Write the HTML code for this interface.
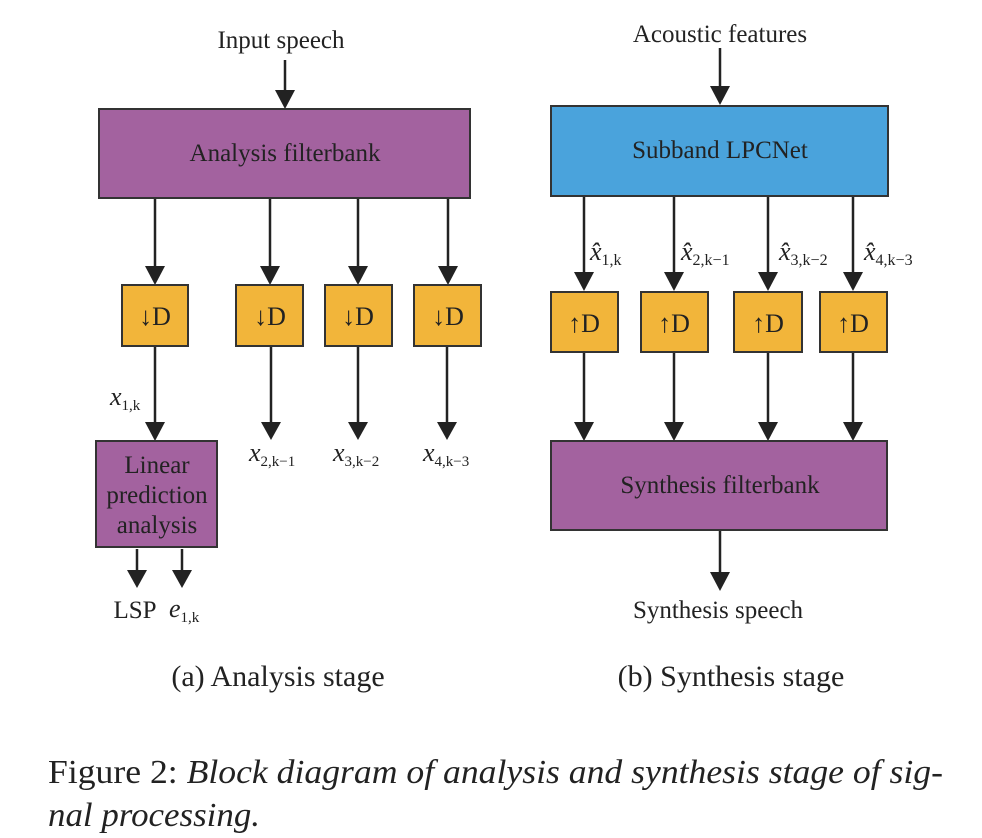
<!DOCTYPE html>
<html><head><style>
body{margin:0;background:#fff}
svg{display:block}
text{font-family:"Liberation Serif",serif;fill:#222}
</style></head><body>
<svg width="982" height="838" xmlns="http://www.w3.org/2000/svg">
<g stroke="#222" stroke-width="2.5">
<line x1="285" y1="60" x2="285" y2="92"/>
<line x1="155" y1="198" x2="155" y2="268"/>
<line x1="270" y1="198" x2="270" y2="268"/>
<line x1="358" y1="198" x2="358" y2="268"/>
<line x1="448" y1="198" x2="448" y2="268"/>
<line x1="155" y1="346" x2="155" y2="424"/>
<line x1="271" y1="346" x2="271" y2="424"/>
<line x1="358" y1="346" x2="358" y2="424"/>
<line x1="447" y1="346" x2="447" y2="424"/>
<line x1="137" y1="549" x2="137" y2="572"/>
<line x1="182" y1="549" x2="182" y2="572"/>
<line x1="720" y1="48" x2="720" y2="88"/>
<line x1="584" y1="196" x2="584" y2="274"/>
<line x1="674" y1="196" x2="674" y2="274"/>
<line x1="768" y1="196" x2="768" y2="274"/>
<line x1="853" y1="196" x2="853" y2="274"/>
<line x1="584" y1="352" x2="584" y2="424"/>
<line x1="674" y1="352" x2="674" y2="424"/>
<line x1="768" y1="352" x2="768" y2="424"/>
<line x1="853" y1="352" x2="853" y2="424"/>
<line x1="720" y1="530" x2="720" y2="574"/>
</g>
<g fill="#222">
<path d="M275,90 L295,90 L285,109 Z"/>
<path d="M145,266 L165,266 L155,285 Z"/>
<path d="M260,266 L280,266 L270,285 Z"/>
<path d="M348,266 L368,266 L358,285 Z"/>
<path d="M438,266 L458,266 L448,285 Z"/>
<path d="M145,422 L165,422 L155,441 Z"/>
<path d="M261,422 L281,422 L271,440 Z"/>
<path d="M348,422 L368,422 L358,440 Z"/>
<path d="M437,422 L457,422 L447,440 Z"/>
<path d="M127,570 L147,570 L137,588 Z"/>
<path d="M172,570 L192,570 L182,588 Z"/>
<path d="M710,86 L730,86 L720,105 Z"/>
<path d="M574,272 L594,272 L584,291 Z"/>
<path d="M664,272 L684,272 L674,291 Z"/>
<path d="M758,272 L778,272 L768,291 Z"/>
<path d="M843,272 L863,272 L853,291 Z"/>
<path d="M574,422 L594,422 L584,441 Z"/>
<path d="M664,422 L684,422 L674,441 Z"/>
<path d="M758,422 L778,422 L768,441 Z"/>
<path d="M843,422 L863,422 L853,441 Z"/>
<path d="M710,572 L730,572 L720,591 Z"/>
</g>
<g stroke="#333" stroke-width="2">
<rect x="99" y="109" width="371" height="89" fill="#a3629f"/>
<rect x="551" y="106" width="337" height="90" fill="#4aa3dc"/>
<rect x="551" y="441" width="336" height="89" fill="#a3629f"/>
<rect x="96" y="441" width="121" height="106" fill="#a3629f"/>
<g fill="#f2b53a">
<rect x="122" y="285" width="66" height="61"/>
<rect x="236" y="285" width="67" height="61"/>
<rect x="325" y="285" width="67" height="61"/>
<rect x="414" y="285" width="67" height="61"/>
<rect x="551" y="292" width="67" height="60"/>
<rect x="641" y="292" width="67" height="60"/>
<rect x="734" y="292" width="68" height="60"/>
<rect x="820" y="292" width="67" height="60"/>
</g>
</g>
<g font-size="25" text-anchor="middle">
<text x="281" y="48">Input speech</text>
<text x="720" y="42">Acoustic features</text>
<text x="285" y="161" fill="#3a1a3a">Analysis filterbank</text>
<text x="720" y="158" fill="#1e4a6a">Subband LPCNet</text>
<text x="720" y="493" fill="#3a1a3a">Synthesis filterbank</text>
<text x="157" y="473" fill="#3a1a3a">Linear</text>
<text x="157" y="503" fill="#3a1a3a">prediction</text>
<text x="157" y="533" fill="#3a1a3a">analysis</text>
<g font-size="26">
<text x="155" y="325">↓D</text><text x="270" y="325">↓D</text><text x="358" y="325">↓D</text><text x="448" y="325">↓D</text>
<text x="584" y="332">↑D</text><text x="674" y="332">↑D</text><text x="768" y="332">↑D</text><text x="853" y="332">↑D</text>
</g>
<text x="718" y="618">Synthesis speech</text>
<text x="135" y="618">LSP</text>
<text x="278" y="686" font-size="30">(a)  Analysis stage</text>
<text x="731" y="686" font-size="30">(b)  Synthesis stage</text>
</g>
<g font-size="26" font-style="italic">
<text x="110" y="405">x<tspan font-size="15" font-style="normal" dy="5">1,k</tspan></text>
<text x="249" y="461">x<tspan font-size="15" font-style="normal" dy="5">2,k−1</tspan></text>
<text x="333" y="461">x<tspan font-size="15" font-style="normal" dy="5">3,k−2</tspan></text>
<text x="423" y="461">x<tspan font-size="15" font-style="normal" dy="5">4,k−3</tspan></text>
<text x="169" y="617">e<tspan font-size="15" font-style="normal" dy="5">1,k</tspan></text>
<text x="590" y="260">x̂<tspan font-size="16" font-style="normal" dy="5">1,k</tspan></text>
<text x="681" y="260">x̂<tspan font-size="16" font-style="normal" dy="5">2,k−1</tspan></text>
<text x="779" y="260">x̂<tspan font-size="16" font-style="normal" dy="5">3,k−2</tspan></text>
<text x="864" y="260">x̂<tspan font-size="16" font-style="normal" dy="5">4,k−3</tspan></text>
</g>
<g font-size="34">
<text x="48" y="783" textLength="895" lengthAdjust="spacingAndGlyphs">Figure 2: <tspan font-style="italic">Block diagram of analysis and synthesis stage of sig-</tspan></text>
<text x="48" y="826" font-style="italic" textLength="212" lengthAdjust="spacingAndGlyphs">nal processing.</text>
</g>
</svg>
</body></html>
